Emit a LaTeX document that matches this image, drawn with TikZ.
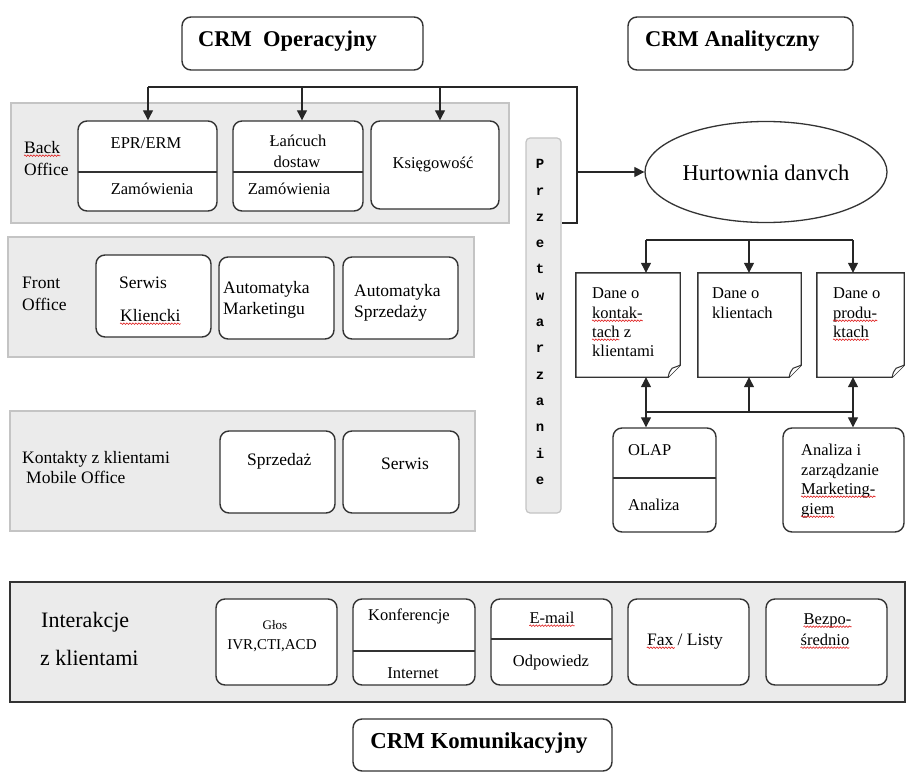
\documentclass[tikz,border=0pt]{standalone}
\usepackage{fontspec}
\setmainfont{Liberation Serif}
\newfontfamily\monof{Liberation Mono}
\usetikzlibrary{arrows.meta,shapes.geometric,decorations.pathmorphing}
\definecolor{panelgray}{HTML}{EBEBEB}
\definecolor{panelborder}{HTML}{C4C4C4}
\definecolor{boxc}{HTML}{333333}
\definecolor{squig}{HTML}{E02020}
\newcommand{\myfs}[1]{\fontsize{#1}{#1}\selectfont}
\begin{document}
\begin{tikzpicture}[x=1pt,y=-1pt,
 panel/.style={fill=panelgray, draw=panelborder, line width=1.2pt, inner sep=0pt},
 rbox/.style={draw=boxc, fill=white, line width=1.4pt, rounded corners=9pt, inner sep=0pt},
 frame/.style={inner sep=0pt, draw=none},
 divl/.style={draw=boxc, line width=1.3pt},
 docl/.style={draw=boxc, fill=white, line width=1.4pt},
 conn/.style={draw=black!85, line width=1.2pt},
 arr/.style={conn, -{Triangle[length=10pt,width=10pt]}},
 darr/.style={conn, {Triangle[length=10pt,width=10pt]}-{Triangle[length=10pt,width=10pt]}},
 lbl/.style={inner sep=0pt, anchor=west, text height=0.7em, text depth=0.2em, yshift=-3pt},
 lblc/.style={inner sep=0pt, anchor=center, text height=0.7em, text depth=0.2em, yshift=-3pt},
 squiggle/.style={draw=squig, line width=0.6pt, decorate, decoration={snake, amplitude=0.8pt, segment length=3pt}},
]
\useasboundingbox (0,0) rectangle (918,781);

% ---------- titles ----------
\node[rbox, minimum width=241pt, minimum height=53pt] (ops) at (302.5,43.5) {};
\node[lbl, font=\bfseries\myfs{22.5}] (opst) at (198,41) {CRM\ \ Operacyjny};
\node[rbox, minimum width=225pt, minimum height=53pt] (ana) at (740.5,43.5) {};
\node[lbl, font=\bfseries\myfs{22.5}] (anat) at (645,41) {CRM Analityczny};
\node[rbox, minimum width=259pt, minimum height=52pt] (kom) at (482.5,745) {};
\node[lblc, font=\bfseries\myfs{22.8}] (komt) at (479,743) {CRM Komunikacyjny};

% ---------- panels ----------
\node[panel, minimum width=498pt, minimum height=120pt] (back) at (260,163) {};
\node[panel, minimum width=466pt, minimum height=120pt] (front) at (241,297) {};
\node[panel, minimum width=465pt, minimum height=120pt] (mobile) at (242.5,471) {};
\node[panel, rounded corners=4pt, minimum width=35pt, minimum height=375pt] (przet) at (543.5,325.5) {};
\node[inner sep=0pt, fill=panelgray, draw=boxc, line width=1.2pt, minimum width=895pt, minimum height=120pt] (inter) at (457.5,642) {};

% ---------- back office ----------
\node[lbl, font=\myfs{17.5}] (backt1) at (24,148) {Back};
\node[lbl, font=\myfs{17.5}] (backt2) at (24,170) {Office};
\node[rbox, minimum width=139pt, minimum height=90pt] (epr) at (147.5,166) {};
\draw[divl] (78,172) -- (217,172);
\node[lblc, font=\myfs{16.5}] (eprt) at (146,143) {EPR/ERM};
\node[lblc, font=\myfs{16.5}] (eprz) at (152,189) {Zamówienia};
\node[rbox, minimum width=130pt, minimum height=90pt] (lan) at (298,166) {};
\draw[divl] (233,172) -- (363,172);
\node[lblc, font=\myfs{16.5}] (lant1) at (298,141) {Łańcuch};
\node[lblc, font=\myfs{16.5}] (lant2) at (297,162) {dostaw};
\node[lblc, font=\myfs{16.5}] (lanz) at (289,189) {Zamówienia};
\node[rbox, minimum width=128pt, minimum height=88pt] (ksieg) at (435,165) {};
\node[lblc, font=\myfs{16.5}] (ksiegt) at (433,163) {Księgowość};

% ---------- front office ----------
\node[lbl, font=\myfs{17.5}] (frontt1) at (22,283) {Front};
\node[lbl, font=\myfs{17.5}] (frontt2) at (22,305) {Office};
\node[rbox, minimum width=115pt, minimum height=82pt] (serw) at (153.5,296) {};
\node[lbl, font=\myfs{17.5}] (serwt1) at (119,283) {Serwis};
\node[lbl, font=\myfs{17.5}] (serwt2) at (120,316) {Kliencki};
\node[rbox, minimum width=115pt, minimum height=82pt] (autm) at (276.5,298) {};
\node[lbl, font=\myfs{17.5}] (autmt1) at (223,288) {Automatyka};
\node[lbl, font=\myfs{17.5}] (autmt2) at (223,309) {Marketingu};
\node[rbox, minimum width=115pt, minimum height=82pt] (auts) at (400.5,298) {};
\node[lbl, font=\myfs{17.5}] (autst1) at (354,291) {Automatyka};
\node[lbl, font=\myfs{17.5}] (autst2) at (354,312) {Sprzedaży};

% ---------- mobile office ----------
\node[lbl, font=\myfs{17.5}] (mobt1) at (22,458) {Kontakty z klientami};
\node[lbl, font=\myfs{17.5}] (mobt2) at (26,478) {Mobile Office};
\node[rbox, minimum width=115pt, minimum height=82pt] (sprz) at (277.5,472) {};
\node[lbl, font=\myfs{17.5}] (sprzt) at (247,460) {Sprzedaż};
\node[rbox, minimum width=116pt, minimum height=82pt] (serw2) at (401,472) {};
\node[lbl, font=\myfs{17.5}] (serw2t) at (381,464) {Serwis};

% ---------- przetwarzanie ----------
\node[inner sep=0pt, align=center, font=\monof\bfseries\fontsize{14}{26.3}\selectfont] (przett) at (540,322)
 {P\\r\\z\\e\\t\\w\\a\\r\\z\\a\\n\\i\\e};

% ---------- connectors left ----------
\coordinate (busL) at (148,87);
\coordinate (busR) at (577,87);
\coordinate (busB) at (577,223);
\coordinate (bk) at (440,87);
\coordinate (bl) at (302,87);
\coordinate (hm) at (577,172);
\draw[conn] (busL) -- (busR) -- (busB) -- (przet.east |- busB);
\draw[arr] (busL) -- (busL |- epr.north);
\draw[arr] (bl) -- (bl |- lan.north);
\draw[arr] (bk) -- (bk |- ksieg.north);

% ---------- analytic part ----------
\node[ellipse, draw=boxc, line width=1.3pt, fill=white, minimum width=242pt, minimum height=101pt, inner sep=0pt] (hurt) at (766,172) {};
\node[lblc, font=\myfs{22.5}] (hurtt) at (766,175) {Hurtownia danvch};
\draw[arr] (hm) -- (hurt.west);

\node[frame, minimum width=104pt, minimum height=104pt] (doc1) at (628,325) {};
\node[frame, minimum width=103pt, minimum height=104pt] (doc2) at (749.5,325) {};
\node[frame, minimum width=87pt, minimum height=104pt] (doc3) at (860.5,325) {};
\foreach \d in {doc1,doc2,doc3}{
 \draw[docl] (\d.north west) -- (\d.north east) -- ([yshift=12pt]\d.south east)
   -- ([xshift=-12pt]\d.south east) -- (\d.south west) -- cycle;
 \draw[draw=boxc, line width=1pt, fill=white] ([xshift=-12pt]\d.south east)
   .. controls ([xshift=-11pt,yshift=5pt]\d.south east) .. ([xshift=-8pt,yshift=9pt]\d.south east)
   -- ([yshift=12pt]\d.south east);
}
\node[lbl, font=\myfs{16.5}] (d1a) at (592,293) {Dane o};
\node[lbl, font=\myfs{16.5}] (d1b) at (592,313) {kontak-};
\node[lbl, font=\myfs{16.5}] (d1c) at (592,332) {tach z};
\node[lbl, font=\myfs{16.5}] (d1d) at (592,351) {klientami};
\node[lbl, font=\myfs{16.5}] (d2a) at (712,293) {Dane o};
\node[lbl, font=\myfs{16.5}] (d2b) at (712,313) {klientach};
\node[lbl, font=\myfs{16.5}] (d3a) at (833,293) {Dane o};
\node[lbl, font=\myfs{16.5}] (d3b) at (833,313) {produ-};
\node[lbl, font=\myfs{16.5}] (d3c) at (833,332) {ktach};

\node[rbox, minimum width=103pt, minimum height=104pt] (olap) at (664.5,480) {};
\draw[divl] (613,478) -- (716,478);
\node[lbl, font=\myfs{16.5}] (olapt) at (628,450) {OLAP};
\node[lbl, font=\myfs{16.5}] (olapa) at (628,505) {Analiza};
\node[rbox, minimum width=121pt, minimum height=104pt] (anz) at (843.5,480) {};
\node[lbl, font=\myfs{16.5}] (anz1) at (801,450) {Analiza i};
\node[lbl, font=\myfs{16.5}] (anz2) at (801,470) {zarządzanie};
\node[lbl, font=\myfs{16.5}] (anz3) at (801,489) {Marketing-};
\node[lbl, font=\myfs{16.5}] (anz4) at (801,509) {giem};

\coordinate (dA) at (646,240);
\coordinate (dB) at (749,240);
\coordinate (dC) at (853,240);
\draw[conn] (dA) -- (dC);
\draw[arr] (dA) -- (dA |- doc1.north);
\draw[arr] (dB) -- (dB |- doc2.north);
\draw[arr] (dC) -- (dC |- doc3.north);
\coordinate (eA) at (646,412);
\coordinate (eB) at (749,412);
\coordinate (eC) at (853,412);
\draw[conn] (eA) -- (eC);
\draw[darr] (eA |- doc1.south) -- (eA |- olap.north);
\draw[arr] (eB) -- (eB |- doc2.south);
\draw[darr] (eC |- doc3.south) -- (eC |- anz.north);

% ---------- interactions ----------
\node[lbl, font=\myfs{22}] (intt1) at (41,622) {Interakcje};
\node[lbl, font=\myfs{22}] (intt2) at (40,660) {z klientami};
\node[rbox, minimum width=121pt, minimum height=86pt] (glos) at (276.5,642) {};
\node[lblc, font=\myfs{13}] (glost1) at (275,624) {Głos};
\node[lblc, font=\myfs{15}] (glost2) at (272,644) {IVR,CTI,ACD};
\node[rbox, minimum width=122pt, minimum height=86pt] (konf) at (414,642) {};
\draw[divl] (353,651) -- (475,651);
\node[lbl, font=\myfs{16.5}] (konft) at (368,615) {Konferencje};
\node[lblc, font=\myfs{16.5}] (konfi) at (413,673) {Internet};
\node[rbox, minimum width=121pt, minimum height=86pt] (email) at (551.5,642) {};
\draw[divl] (491,639) -- (612,639);
\node[lblc, font=\myfs{16.5}] (emailt) at (552,618) {E-mail};
\node[lblc, font=\myfs{16.5}] (emailo) at (551,661) {Odpowiedz};
\node[rbox, minimum width=121pt, minimum height=86pt] (fax) at (688.5,642) {};
\node[lblc, font=\myfs{17.5}] (faxt) at (685,640) {Fax / Listy};
\node[rbox, minimum width=121pt, minimum height=86pt] (bezp) at (826.5,642) {};
\node[lblc, font=\myfs{16.5}] (bezp1) at (827.5,619) {Bezpo-};
\node[lblc, font=\myfs{16.5}] (bezp2) at (825,640) {średnio};

% ---------- spell-check squiggles ----------
\draw[squiggle] (backt1.south west) -- (backt1.south east);
\draw[squiggle] (serwt2.south west) -- (serwt2.south east);
\draw[squiggle] (d1b.south west) -- (d1b.south east);
\draw[squiggle] (d1c.south west) -- ([xshift=-12pt]d1c.south east);
\draw[squiggle] (d3b.south west) -- (d3b.south east);
\draw[squiggle] (d3c.south west) -- (d3c.south east);
\draw[squiggle] (anz3.south west) -- (anz3.south east);
\draw[squiggle] (anz4.south west) -- (anz4.south east);
\draw[squiggle] (emailt.south west) -- (emailt.south east);
\draw[squiggle] (faxt.south west) -- ([xshift=28pt]faxt.south west);
\draw[squiggle] (bezp1.south west) -- (bezp1.south east);
\draw[squiggle] (bezp2.south west) -- (bezp2.south east);
\end{tikzpicture}
\end{document}
